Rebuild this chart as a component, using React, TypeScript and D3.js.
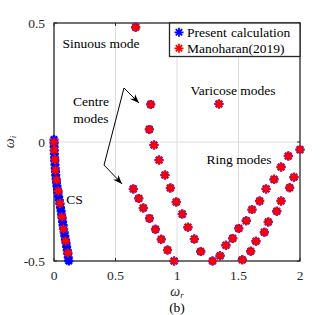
import { useEffect, useRef } from "react";
import * as d3 from "d3";

// [omega_r, omega_i] pairs
const csPresent: [number, number][] = [
  [0.0, 0.01], [0.001, -0.005], [0.001, -0.02], [0.002, -0.035], [0.003, -0.05],
  [0.005, -0.065], [0.006, -0.08], [0.008, -0.095], [0.01, -0.11], [0.012, -0.125],
  [0.014, -0.14], [0.017, -0.155], [0.02, -0.17], [0.024, -0.185], [0.028, -0.2],
  [0.033, -0.215], [0.038, -0.23], [0.043, -0.245], [0.048, -0.26], [0.053, -0.275],
  [0.058, -0.29], [0.062, -0.305], [0.066, -0.32], [0.07, -0.335], [0.074, -0.35],
  [0.078, -0.365], [0.083, -0.38], [0.088, -0.395], [0.093, -0.41], [0.098, -0.425],
  [0.103, -0.44], [0.108, -0.455], [0.112, -0.47], [0.116, -0.485], [0.12, -0.5],
];
const csManoharan: [number, number][] = [
  [0.0, 0.0], [0.002, -0.034], [0.008, -0.074], [0.012, -0.118], [0.02, -0.16],
  [0.035, -0.206], [0.049, -0.258], [0.065, -0.315], [0.076, -0.366], [0.095, -0.416],
  [0.114, -0.466],
];
const sinuous: [number, number][] = [[0.664, 0.482]];
const varicose: [number, number][] = [[1.341, 0.16]];
const centreA: [number, number][] = [
  [0.786, 0.158], [0.775, 0.053], [0.813, -0.013], [0.854, -0.076], [0.902, -0.139],
  [0.946, -0.193], [0.994, -0.252], [1.043, -0.303], [1.089, -0.358], [1.141, -0.408],
  [1.193, -0.46], [1.289, -0.5],
];
const centreB: [number, number][] = [
  [0.645, -0.197], [0.689, -0.237], [0.726, -0.277], [0.776, -0.321], [0.825, -0.367],
  [0.872, -0.409], [0.923, -0.454], [0.976, -0.5],
];
const ringOuter: [number, number][] = [
  [1.35, -0.478], [1.398, -0.434], [1.453, -0.405], [1.502, -0.363], [1.563, -0.331],
  [1.61, -0.284], [1.672, -0.248], [1.724, -0.197], [1.789, -0.157], [1.846, -0.105],
  [1.905, -0.059], [2.0, -0.032],
];
const ringInner: [number, number][] = [
  [1.531, -0.495], [1.599, -0.459], [1.642, -0.417], [1.71, -0.379], [1.742, -0.336],
  [1.811, -0.291], [1.846, -0.248], [1.916, -0.192], [1.951, -0.148],
];
const xTicks = [0, 0.5, 1, 1.5, 2];
const yTicks = [-0.5, 0, 0.5];
const legendLabels = ["Present calculation", "Manoharan(2019)"];

export default function App() {
  const ref = useRef<SVGSVGElement>(null);

  useEffect(() => {
    const svg = d3.select(ref.current);
    svg.selectAll("*").remove();

    const margin = { left: 54, right: 32, top: 23, bottom: 54 };
    const width = 332;
    const height = 315;
    const x = d3.scaleLinear([0, 2], [margin.left, width - margin.right]);
    const y = d3.scaleLinear([-0.5, 0.5], [height - margin.bottom, margin.top]);
    const font = "Liberation Serif, Tinos, Times New Roman, DejaVu Serif, serif";
    const fs = 13.5;

    svg.append("rect").attr("width", width).attr("height", height).attr("fill", "#fff");

    // grid
    svg
      .selectAll("line.gx")
      .data(xTicks.slice(1, -1))
      .enter()
      .append("line")
      .attr("x1", (d) => x(d))
      .attr("x2", (d) => x(d))
      .attr("y1", y(-0.5))
      .attr("y2", y(0.5))
      .attr("stroke", "#dedede")
      .attr("stroke-width", 1);
    svg
      .selectAll("line.gy")
      .data(yTicks.slice(1, -1))
      .enter()
      .append("line")
      .attr("x1", x(0))
      .attr("x2", x(2))
      .attr("y1", (d) => y(d))
      .attr("y2", (d) => y(d))
      .attr("stroke", "#dedede")
      .attr("stroke-width", 1);

    // ticks, inward on all sides
    const tk = 3;
    xTicks.forEach((t) => {
      svg.append("line").attr("x1", x(t)).attr("x2", x(t)).attr("y1", y(-0.5)).attr("y2", y(-0.5) - tk).attr("stroke", "#262626");
      svg.append("line").attr("x1", x(t)).attr("x2", x(t)).attr("y1", y(0.5)).attr("y2", y(0.5) + tk).attr("stroke", "#262626");
    });
    yTicks.forEach((t) => {
      svg.append("line").attr("x1", x(0)).attr("x2", x(0) + tk).attr("y1", y(t)).attr("y2", y(t)).attr("stroke", "#262626");
      svg.append("line").attr("x1", x(2)).attr("x2", x(2) - tk).attr("y1", y(t)).attr("y2", y(t)).attr("stroke", "#262626");
    });

    // axes box
    svg
      .append("rect")
      .attr("x", x(0))
      .attr("y", y(0.5))
      .attr("width", x(2) - x(0))
      .attr("height", y(-0.5) - y(0.5))
      .attr("fill", "none")
      .attr("stroke", "#262626")
      .attr("stroke-width", 1.3);

    // tick labels
    svg
      .selectAll("text.xt")
      .data(xTicks)
      .enter()
      .append("text")
      .attr("x", (d) => x(d))
      .attr("y", y(-0.5) + 19)
      .attr("text-anchor", "middle")
      .attr("font-family", font)
      .attr("font-size", fs)
      .attr("fill", "#262626")
      .text((d) => String(d));
    svg
      .selectAll("text.yt")
      .data(yTicks)
      .enter()
      .append("text")
      .attr("x", x(0) - 9)
      .attr("y", (d) => y(d) + 5)
      .attr("text-anchor", "end")
      .attr("font-family", font)
      .attr("font-size", fs)
      .attr("fill", "#262626")
      .text((d) => String(d));

    // axis labels
    const xl = svg
      .append("text")
      .attr("x", x(1))
      .attr("y", 296)
      .attr("text-anchor", "middle")
      .attr("font-family", font)
      .attr("font-size", 14)
      .attr("fill", "#262626");
    xl.append("tspan").attr("font-style", "italic").text("ω");
    xl.append("tspan").attr("font-style", "italic").attr("font-size", 9).attr("dy", 2).text("r");

    const yl = svg
      .append("text")
      .attr("transform", `translate(14,${y(0)}) rotate(-90)`)
      .attr("text-anchor", "middle")
      .attr("font-family", font)
      .attr("font-size", 14)
      .attr("fill", "#262626");
    yl.append("tspan").attr("font-style", "italic").text("ω");
    yl.append("tspan").attr("font-style", "italic").attr("font-size", 9).attr("dy", 2).text("i");

    svg
      .append("text")
      .attr("x", x(1))
      .attr("y", 312)
      .attr("text-anchor", "middle")
      .attr("font-family", font)
      .attr("font-size", fs)
      .attr("fill", "#000")
      .text("(b)");

    // asterisk marker
    const r = 4.5;
    const star = d3.range(4).map((k) => {
      const a = (k * Math.PI) / 4;
      return `M${-r * Math.cos(a)},${-r * Math.sin(a)}L${r * Math.cos(a)},${r * Math.sin(a)}`;
    }).join("");

    const drawStars = (pts: [number, number][], color: string, sw: number) => {
      svg
        .append("g")
        .selectAll("path")
        .data(pts)
        .enter()
        .append("path")
        .attr("d", star)
        .attr("transform", (d) => `translate(${x(d[0])},${y(d[1])})`)
        .attr("fill", "none")
        .attr("stroke", color)
        .attr("stroke-width", sw);
    };

    const modes = [...sinuous, ...varicose, ...centreA, ...centreB, ...ringOuter, ...ringInner];
    drawStars([...csPresent, ...modes], "#0000ff", 2.4);
    drawStars([...csManoharan, ...modes], "#ff0000", 1.9);

    // annotations
    const ann = (s: string, px: number, py: number, anchor = "start") =>
      svg
        .append("text")
        .attr("x", px)
        .attr("y", py)
        .attr("text-anchor", anchor)
        .attr("font-family", font)
        .attr("font-size", fs)
        .attr("fill", "#000")
        .text(s);
    ann("Sinuous mode", x(0.07), y(0.395));
    ann("Centre", x(0.3), y(0.152), "middle");
    ann("modes", x(0.3), y(0.08), "middle");
    ann("Varicose modes", x(1.11), y(0.197));
    ann("Ring modes", x(1.24), y(-0.093));
    ann("CS", x(0.1), y(-0.262));

    // arrows
    const arrowHead = (x0: number, y0: number, x1: number, y1: number) => {
      const ang = Math.atan2(y1 - y0, x1 - x0);
      const L = 9;
      const W = 3.5;
      const bx = x1 - L * Math.cos(ang);
      const by = y1 - L * Math.sin(ang);
      const nx = -Math.sin(ang);
      const ny = Math.cos(ang);
      const mx = x1 - L * 0.7 * Math.cos(ang);
      const my = y1 - L * 0.7 * Math.sin(ang);
      svg
        .append("path")
        .attr("d", `M${x1},${y1}L${bx + nx * W},${by + ny * W}L${mx},${my}L${bx - nx * W},${by - ny * W}Z`)
        .attr("fill", "#000");
    };
    const kink: [number, number] = [x(0.569), y(0.227)];
    const tip1: [number, number] = [x(0.691), y(0.164)];
    const low: [number, number] = [x(0.407), y(-0.097)];
    const tip2: [number, number] = [x(0.553), y(-0.176)];
    svg
      .append("path")
      .attr("d", d3.line()([tip1, kink, low, tip2]))
      .attr("fill", "none")
      .attr("stroke", "#000")
      .attr("stroke-width", 1);
    arrowHead(kink[0], kink[1], tip1[0], tip1[1]);
    arrowHead(low[0], low[1], tip2[0], tip2[1]);

    // legend
    const lg = { x0: 169.5, y0: y(0.5), x1: x(2), y1: 56.5 };
    svg
      .append("rect")
      .attr("x", lg.x0)
      .attr("y", lg.y0)
      .attr("width", lg.x1 - lg.x0)
      .attr("height", lg.y1 - lg.y0)
      .attr("fill", "#fff")
      .attr("stroke", "#262626")
      .attr("stroke-width", 1.3);
    const legendColors = ["#0000ff", "#ff0000"];
    legendLabels.forEach((lab, i) => {
      const cy = 32.3 + i * 16;
      svg
        .append("path")
        .attr("d", star)
        .attr("transform", `translate(179,${cy})`)
        .attr("stroke", legendColors[i])
        .attr("stroke-width", 1.8);
      svg
        .append("text")
        .attr("x", 187)
        .attr("y", cy + 4.7)
        .attr("font-family", font)
        .attr("font-size", fs)
        .attr("word-spacing", 1)
        .attr("fill", "#000")
        .text(lab);
    });
  }, []);

  return (
    <svg
      ref={ref}
      width={332}
      height={315}
      style={{ position: "absolute", left: 0, top: 0 }}
    />
  );
}
